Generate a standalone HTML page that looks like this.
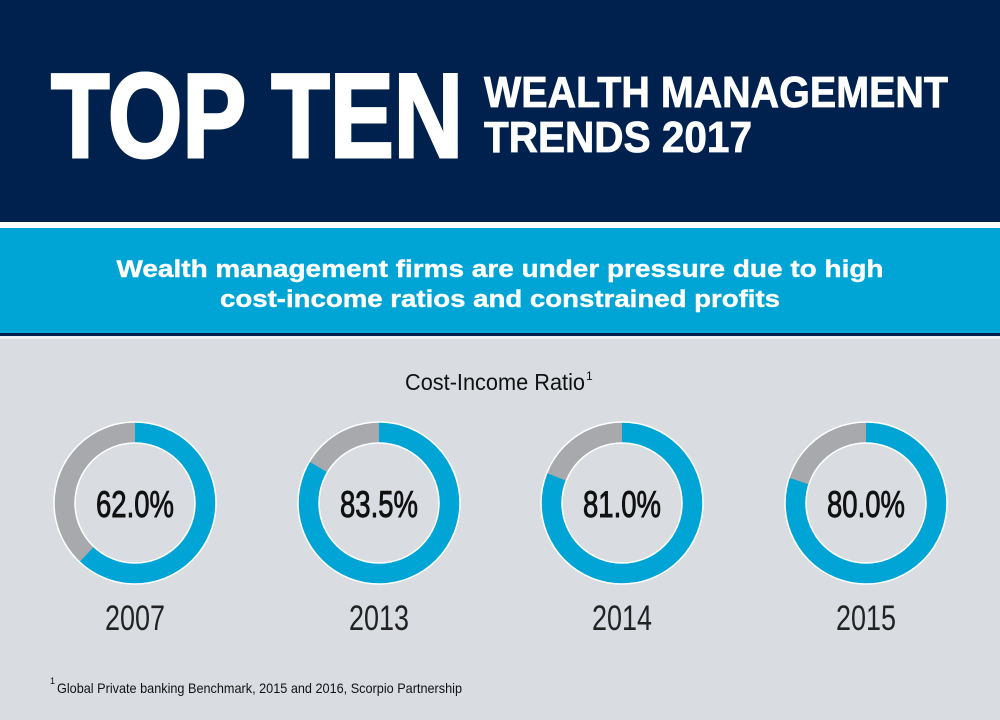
<!DOCTYPE html>
<html><head><meta charset="utf-8"><style>
html,body{margin:0;padding:0;width:1000px;height:720px;overflow:hidden;background:#d9dde2}
svg{display:block}
</style></head><body>
<svg width="1000" height="720" viewBox="0 0 1000 720" xmlns="http://www.w3.org/2000/svg">
<rect x="0" y="0" width="1000" height="222" fill="#00214d"/>
<rect x="0" y="222" width="1000" height="6" fill="#ffffff"/>
<rect x="0" y="228" width="1000" height="105" fill="#00a5d5"/>
<rect x="0" y="333" width="1000" height="3" fill="#00214d"/>
<rect x="0" y="336" width="1000" height="3" fill="#eef0f2"/>
<rect x="0" y="339" width="1000" height="381" fill="#d9dde2"/>
<g font-family="'Liberation Sans Narrow','Liberation Sans',sans-serif" font-weight="bold" fill="#fff" stroke="#fff" stroke-width="3">
<text x="51" y="157" font-size="120" textLength="412" lengthAdjust="spacingAndGlyphs">TOP TEN</text>
</g>
<g font-family="'Liberation Sans',sans-serif" font-weight="bold" fill="#fff" font-size="44" stroke="#fff" stroke-width="0.8">
<text x="484" y="107" textLength="464" lengthAdjust="spacingAndGlyphs">WEALTH MANAGEMENT</text>
<text x="484" y="152" textLength="268" lengthAdjust="spacingAndGlyphs">TRENDS 2017</text>
</g>
<g font-family="'Liberation Sans',sans-serif" font-weight="bold" fill="#fff" font-size="24" text-anchor="middle" stroke="#fff" stroke-width="0.4">
<text x="500" y="277" textLength="767" lengthAdjust="spacingAndGlyphs">Wealth management firms are under pressure due to high</text>
<text x="500" y="307" textLength="560" lengthAdjust="spacingAndGlyphs">cost-income ratios and constrained profits</text>
</g>
<g font-family="'Liberation Sans Narrow','Liberation Sans',sans-serif" fill="#111">
<text x="405" y="390" font-size="23" textLength="180" lengthAdjust="spacingAndGlyphs">Cost-Income Ratio</text>
<text x="586" y="380" font-size="12">1</text>
</g>
<g fill="none" stroke-width="21">
<g transform="translate(135,503) rotate(-90)">
<circle r="70.5" stroke="#a7a9ac"/>
<circle r="70.5" stroke="#00a5d5" stroke-dasharray="274.6 1000"/>
</g>
<g transform="translate(379,503) rotate(-90)">
<circle r="70.5" stroke="#a7a9ac"/>
<circle r="70.5" stroke="#00a5d5" stroke-dasharray="369.9 1000"/>
</g>
<g transform="translate(622,503) rotate(-90)">
<circle r="70.5" stroke="#a7a9ac"/>
<circle r="70.5" stroke="#00a5d5" stroke-dasharray="358.8 1000"/>
</g>
<g transform="translate(866,503) rotate(-90)">
<circle r="70.5" stroke="#a7a9ac"/>
<circle r="70.5" stroke="#00a5d5" stroke-dasharray="354.4 1000"/>
</g>
</g>
<g fill="none" stroke="#fff" stroke-width="1.5">
<circle cx="135" cy="503" r="81"/><circle cx="135" cy="503" r="60"/>
<circle cx="379" cy="503" r="81"/><circle cx="379" cy="503" r="60"/>
<circle cx="622" cy="503" r="81"/><circle cx="622" cy="503" r="60"/>
<circle cx="866" cy="503" r="81"/><circle cx="866" cy="503" r="60"/>
</g>
<g font-family="'Liberation Sans Narrow','Liberation Sans',sans-serif" fill="#111" text-anchor="middle">
<g font-size="37" stroke="#111" stroke-width="0.9">
<text x="135" y="517" textLength="78" lengthAdjust="spacingAndGlyphs">62.0%</text>
<text x="379" y="517" textLength="78" lengthAdjust="spacingAndGlyphs">83.5%</text>
<text x="622" y="517" textLength="78" lengthAdjust="spacingAndGlyphs">81.0%</text>
<text x="866" y="517" textLength="78" lengthAdjust="spacingAndGlyphs">80.0%</text>
</g>
<g font-size="35" fill="#222">
<text x="135" y="630" textLength="60" lengthAdjust="spacingAndGlyphs">2007</text>
<text x="379" y="630" textLength="60" lengthAdjust="spacingAndGlyphs">2013</text>
<text x="622" y="630" textLength="60" lengthAdjust="spacingAndGlyphs">2014</text>
<text x="866" y="630" textLength="60" lengthAdjust="spacingAndGlyphs">2015</text>
</g>
</g>
<g font-family="'Liberation Sans Narrow','Liberation Sans',sans-serif" fill="#111">
<text x="50" y="684" font-size="9">1</text>
<text x="57" y="693" font-size="14" textLength="405" lengthAdjust="spacingAndGlyphs">Global Private banking Benchmark, 2015 and 2016, Scorpio Partnership</text>
</g>
</svg>
</body></html>
